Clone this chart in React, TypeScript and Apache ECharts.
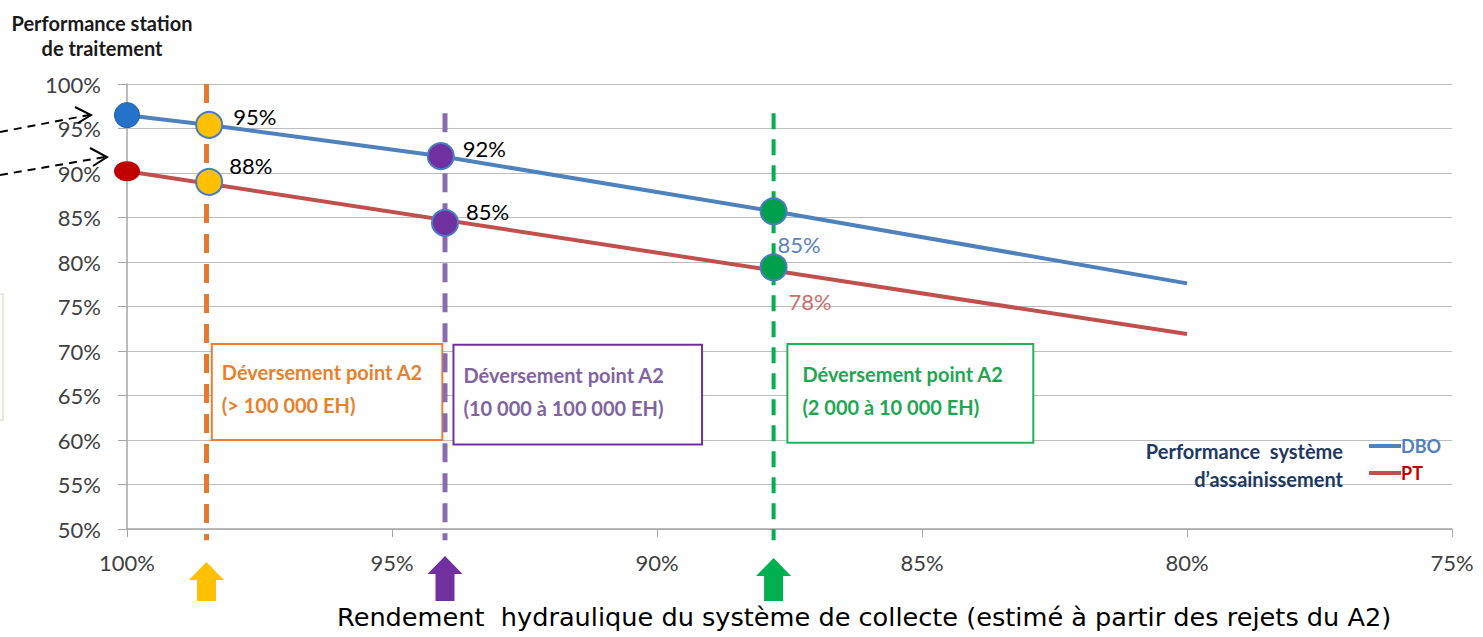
import React, { useEffect, useRef } from "react";
import * as echarts from "echarts";

// ---- data ----
const xTickValues = [100, 95, 90, 85, 80, 75];
const yTickValues = [50, 55, 60, 65, 70, 75, 80, 85, 90, 95, 100];

const dboX = [100, 98.45, 94.1, 87.8, 80];
const dboValues = [96.5, 95.4, 91.9, 85.7, 77.6];
const ptX = [100, 80];
const ptValues = [90.2, 71.9];

const startDbo = 96.5;
const startPt = 90.2;

const thresholdX = [98.5, 94.0, 87.8];
const thresholdTop = [100, 96.7, 96.7];
const thresholdBottom = 48.75;
const thresholdColors = ["#E8782A", "#8A6BB0", "#00B050"];

const markerX = [98.45, 94.08, 87.8];
const markerXPt = [98.45, 94.0, 87.8];
const markerDbo = [95.4, 91.9, 85.7];
const markerPt = [89.0, 84.4, 79.4];
const markerDboLabels = ["95%", "92%", "85%"];
const markerPtLabels = ["88%", "85%", "78%"];
const markerColors = ["#FFC000", "#7030A0", "#00A04A"];

const boxTitles = ["Déversement point A2", "Déversement point A2", "Déversement point A2"];
const boxSubtitles = ["(> 100 000 EH)", "(10 000 à 100 000 EH)", "(2 000 à 10 000 EH)"];
const boxBorderColors = ["#ED7D31", "#7030A0", "#27AE5A"];
const boxTextColors = ["#E6812F", "#8064A2", "#1FA653"];
const boxXFrom = [98.4, 93.84, 87.54];
const boxXTo = [94.05, 89.15, 82.9];
const boxYTop = [70.8, 70.7, 70.8];
const boxYBottom = [60.0, 59.5, 59.7];

const seriesNames = ["DBO", "PT"];
const seriesColors = ["#4F81BD", "#C0504D"];

const FONT = "Lato, 'Open Sans', sans-serif";

export default function App() {
  const ref = useRef<HTMLDivElement>(null);

  useEffect(() => {
    const el = ref.current;
    if (!el) return;
    const chart = echarts.init(el, null, { renderer: "svg" });

    const dboLabelOpts = [
      { distance: 10, offset: [0, -8], color: "#000" },
      { distance: 8, offset: [0, -8], color: "#000" },
      { distance: 0, offset: [-10, 33], color: "#5B82C0" },
    ];
    const ptLabelOpts = [
      { distance: 6, offset: [0, -16], color: "#000" },
      { distance: 7, offset: [0, -11], color: "#000" },
      { distance: 0, offset: [1, 34], color: "#CC6E6B" },
    ];

    const series: any[] = [];

    // boxes (mark areas)
    series.push({
      type: "line",
      name: "boxes",
      data: [],
      z: 1,
      silent: true,
      markArea: {
        silent: true,
        data: boxTitles.map((t, i) => [
          {
            xAxis: boxXFrom[i],
            yAxis: boxYTop[i],
            itemStyle: { color: "#fff", borderColor: boxBorderColors[i], borderWidth: 2, opacity: 1 },
            label: {
              show: true,
              position: "insideLeft",
              distance: i === 2 ? 16 : 11,
              offset: [0, -3],
              formatter: `{a|${t}}\n{a|${boxSubtitles[i]}}`,
              rich: {
                a: {
                  color: boxTextColors[i],
                  fontSize: 20,
                  fontWeight: "bold",
                  lineHeight: 33,
                  fontFamily: FONT,
                },
              },
            },
          },
          { xAxis: boxXTo[i], yAxis: boxYBottom[i] },
        ]),
      },
    });

    // vertical dashed thresholds
    thresholdX.forEach((x, i) => {
      series.push({
        type: "line",
        name: "seuil" + i,
        data: [
          [x, thresholdTop[i]],
          [x, thresholdBottom],
        ],
        symbol: "none",
        clip: false,
        silent: true,
        z: 2,
        lineStyle: { color: thresholdColors[i], width: i === 2 ? 4 : 5, type: i === 2 ? [16, 10] : [19, 11] },
      });
    });

    // main lines
    series.push({
      type: "line",
      name: seriesNames[0],
      data: dboX.map((x, i) => [x, dboValues[i]]),
      symbol: "none",
      z: 3,
      lineStyle: { color: seriesColors[0], width: 4 },
      itemStyle: { color: seriesColors[0] },
    });
    series.push({
      type: "line",
      name: seriesNames[1],
      data: ptX.map((x, i) => [x, ptValues[i]]),
      symbol: "none",
      z: 3,
      lineStyle: { color: seriesColors[1], width: 4 },
      itemStyle: { color: seriesColors[1] },
    });

    // start markers
    series.push({
      type: "scatter",
      name: "startDbo",
      data: [[100, startDbo]],
      symbolSize: 25,
      z: 4,
      itemStyle: { color: "#2672C8", borderColor: "#1F5FA8", borderWidth: 1, opacity: 1 },
    });
    series.push({
      type: "scatter",
      name: "startPt",
      data: [[100, startPt]],
      symbolSize: [26, 20],
      z: 4,
      itemStyle: { color: "#C00000", opacity: 1 },
    });

    // threshold markers with labels
    series.push({
      type: "scatter",
      name: "pointsDbo",
      z: 5,
      symbolSize: 26,
      data: markerX.map((x, i) => ({
        value: [x, markerDbo[i]],
        itemStyle: { color: markerColors[i], borderColor: "#4A7CC4", borderWidth: 2, opacity: 1 },
        label: {
          show: true,
          position: "right",
          formatter: markerDboLabels[i],
          distance: dboLabelOpts[i].distance,
          offset: dboLabelOpts[i].offset,
          color: dboLabelOpts[i].color,
          fontSize: 22,
          fontFamily: FONT,
        },
      })),
    });
    series.push({
      type: "scatter",
      name: "pointsPt",
      z: 5,
      symbolSize: 26,
      data: markerXPt.map((x, i) => ({
        value: [x, markerPt[i]],
        itemStyle: { color: markerColors[i], borderColor: "#4A7CC4", borderWidth: 2, opacity: 1 },
        label: {
          show: true,
          position: "right",
          formatter: markerPtLabels[i],
          distance: ptLabelOpts[i].distance,
          offset: ptLabelOpts[i].offset,
          color: ptLabelOpts[i].color,
          fontSize: 22,
          fontFamily: FONT,
        },
      })),
    });

    const option: any = {
      animation: false,
      backgroundColor: "#fff",
      textStyle: { fontFamily: FONT },
      grid: { left: 127, right: 31, top: 84, bottom: 108, containLabel: false },
      legend: {
        orient: "vertical",
        left: 1364,
        top: 432,
        itemWidth: 32,
        itemHeight: 4,
        itemGap: 9,
        icon: "rect",
        selectedMode: false,
        data: [
          { name: seriesNames[0], textStyle: { color: "#4F81BD" } },
          { name: seriesNames[1], textStyle: { color: "#C00000" } },
        ],
        textStyle: { fontFamily: FONT, fontWeight: "bold", fontSize: 18, padding: [0, 0, 0, -5] },
      },
      xAxis: {
        type: "value",
        min: xTickValues[xTickValues.length - 1],
        max: xTickValues[0],
        interval: 5,
        inverse: true,
        axisLine: { show: true, lineStyle: { color: "#A6A6A6", width: 1.5 } },
        axisTick: { show: true, length: 8, lineStyle: { color: "#A6A6A6" } },
        splitLine: { show: false },
        axisLabel: {
          formatter: "{value}%",
          color: "#404040",
          fontSize: 22,
          fontFamily: FONT,
          margin: 22,
        },
      },
      yAxis: {
        type: "value",
        min: yTickValues[0],
        max: yTickValues[yTickValues.length - 1],
        interval: 5,
        axisLine: { show: true, lineStyle: { color: "#A6A6A6", width: 1.5 } },
        axisTick: { show: true, length: 9, lineStyle: { color: "#A6A6A6" } },
        splitLine: { show: true, lineStyle: { color: "#BDBDBD", width: 1.2 } },
        axisLabel: {
          formatter: "{value}%",
          color: "#404040",
          fontSize: 22,
          fontFamily: FONT,
          margin: 26,
        },
      },
      series,
    };

    chart.setOption(option);

    const px = (x: number) => chart.convertToPixel({ xAxisIndex: 0 }, x) as number;
    const arrowColors = ["#FFC000", "#7030A0", "#00B050"];
    const arrowTops = [562, 556, 558];

    const graphics: any[] = [];
    // y axis title
    graphics.push({
      type: "text",
      x: 102,
      y: 10,
      style: {
        text: "Performance station\nde traitement",
        textAlign: "center",
        textVerticalAlign: "top",
        font: `bold 20px ${FONT}`,
        lineHeight: 25,
        fill: "#1a1a1a",
      },
    });
    // x axis title
    graphics.push({
      type: "text",
      x: 337,
      y: 617,
      style: {
        text: "Rendement  hydraulique du système de collecte (estimé à partir des rejets du A2)",
        textVerticalAlign: "middle",
        fontFamily: "DejaVu Sans",
        fontSize: 25.6,
        fill: "#000",
      },
    });
    // legend caption
    graphics.push({
      type: "text",
      x: 1343,
      y: 451,
      style: {
        text: "Performance  système",
        textAlign: "right",
        textVerticalAlign: "middle",
        font: `bold 20px ${FONT}`,
        fill: "#1F3864",
      },
    });
    graphics.push({
      type: "text",
      x: 1343,
      y: 479,
      style: {
        text: "d’assainissement",
        textAlign: "right",
        textVerticalAlign: "middle",
        font: `bold 20px ${FONT}`,
        fill: "#1F3864",
      },
    });
    // left dashed arrows
    graphics.push({
      type: "polyline",
      shape: { points: [[0, 132], [89, 115]] },
      style: { stroke: "#000", lineWidth: 2, lineDash: [8, 6], fill: null },
      z: 10,
    });
    graphics.push({
      type: "polyline",
      shape: { points: [[75, 107], [91, 115], [78, 123]] },
      style: { stroke: "#000", lineWidth: 2, fill: null },
      z: 10,
    });
    graphics.push({
      type: "polyline",
      shape: { points: [[0, 175], [105, 157]] },
      style: { stroke: "#000", lineWidth: 2, lineDash: [8, 6], fill: null },
      z: 10,
    });
    graphics.push({
      type: "polyline",
      shape: { points: [[90, 148], [107, 157], [93, 166]] },
      style: { stroke: "#000", lineWidth: 2, fill: null },
      z: 10,
    });
    // faint clipped box at the far left
    graphics.push({
      type: "rect",
      shape: { x: -12, y: 294, width: 15, height: 126 },
      style: { stroke: "#E6DED4", lineWidth: 1.5, fill: null },
    });
    // bottom arrows
    thresholdX.forEach((x, i) => {
      const cx = px(x);
      const top = arrowTops[i];
      const headBase = top + 18;
      const bottom = 601;
      graphics.push({
        type: "polygon",
        shape: {
          points: [
            [cx, top],
            [cx + 17.5, headBase],
            [cx + 9.5, headBase],
            [cx + 9.5, bottom],
            [cx - 9.5, bottom],
            [cx - 9.5, headBase],
            [cx - 17.5, headBase],
          ],
        },
        style: { fill: arrowColors[i] },
      });
    });

    chart.setOption({ graphic: graphics });

    return () => {
      chart.dispose();
    };
  }, []);

  return (
    <div
      ref={ref}
      style={{ position: "fixed", left: 0, top: 0, width: 1483, height: 637, background: "#fff" }}
    />
  );
}
